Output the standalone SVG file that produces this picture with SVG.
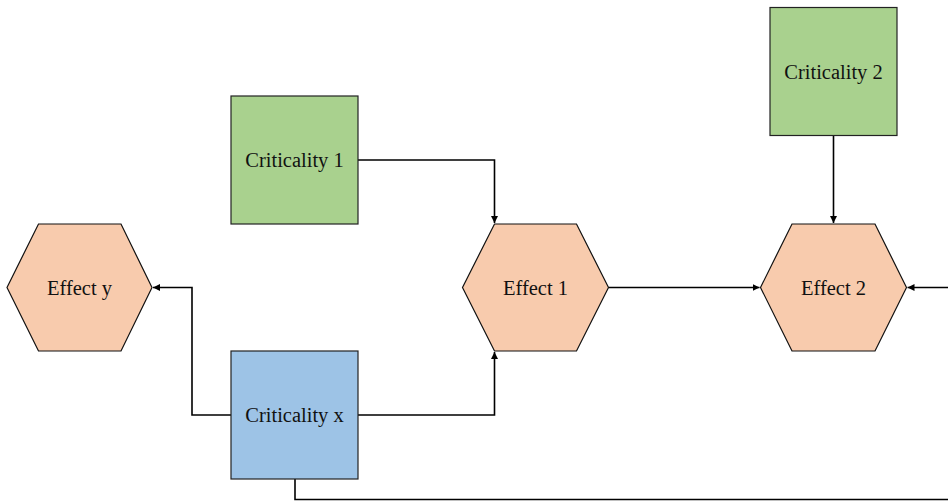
<svg xmlns="http://www.w3.org/2000/svg" width="948" height="502" viewBox="0 0 948 502">
  <style>
    .crit-g { fill: #a9d18e; stroke: #222; stroke-width: 1.2; }
    .crit-b { fill: #9dc3e6; stroke: #222; stroke-width: 1.2; }
    .effect { fill: #f8cbad; stroke: #111; stroke-width: 1.2; }
    .label { font-family: "Liberation Serif", "Times New Roman", serif; font-size: 20.5px; fill: #111; text-anchor: middle; }
    .wire { fill: none; stroke: #000; stroke-width: 1.6; }
  </style>
  <defs>
    <marker id="arrow" viewBox="0 0 10 10" refX="10" refY="5" markerWidth="7" markerHeight="7" markerUnits="userSpaceOnUse" orient="auto">
      <path d="M0,0 L10,5 L0,10 Z" fill="#000"/>
    </marker>
  </defs>
  <rect width="948" height="502" fill="#fff"/>

  <g id="connectors">
    <path class="wire" d="M358,160 H494.5 V223" marker-end="url(#arrow)"/>
    <path class="wire" d="M358,415 H494.5 V352" marker-end="url(#arrow)"/>
    <path class="wire" d="M231,415 H192 V287.5 H153" marker-end="url(#arrow)"/>
    <path class="wire" d="M295,479 V499.5 H948"/>
    <path class="wire" d="M608.5,287.5 H759.5" marker-end="url(#arrow)"/>
    <path class="wire" d="M833.5,135 V223" marker-end="url(#arrow)"/>
    <path class="wire" d="M948,287.5 H907.5" marker-end="url(#arrow)"/>
  </g>

  <g id="effect-y">
    <polygon class="effect" points="38.5,224 121,224 152,287.5 121,351 38.5,351 7,287.5"/>
    <text class="label" x="79.5" y="295">Effect y</text>
  </g>
  <g id="effect-1">
    <polygon class="effect" points="494.5,224 576.5,224 608.5,287.5 576.5,351 494.5,351 462.5,287.5"/>
    <text class="label" x="535.5" y="295">Effect 1</text>
  </g>
  <g id="effect-2">
    <polygon class="effect" points="792,224 875,224 906.5,287.5 875,351 792,351 760.5,287.5"/>
    <text class="label" x="833.5" y="295">Effect 2</text>
  </g>
  <g id="criticality-1">
    <rect class="crit-g" x="231" y="96" width="127" height="128"/>
    <text class="label" x="294.5" y="167">Criticality 1</text>
  </g>
  <g id="criticality-2">
    <rect class="crit-g" x="770" y="7.5" width="127" height="128"/>
    <text class="label" x="833.5" y="79">Criticality 2</text>
  </g>
  <g id="criticality-x">
    <rect class="crit-b" x="231" y="351" width="127" height="128"/>
    <text class="label" x="294.5" y="422">Criticality x</text>
  </g>
</svg>
